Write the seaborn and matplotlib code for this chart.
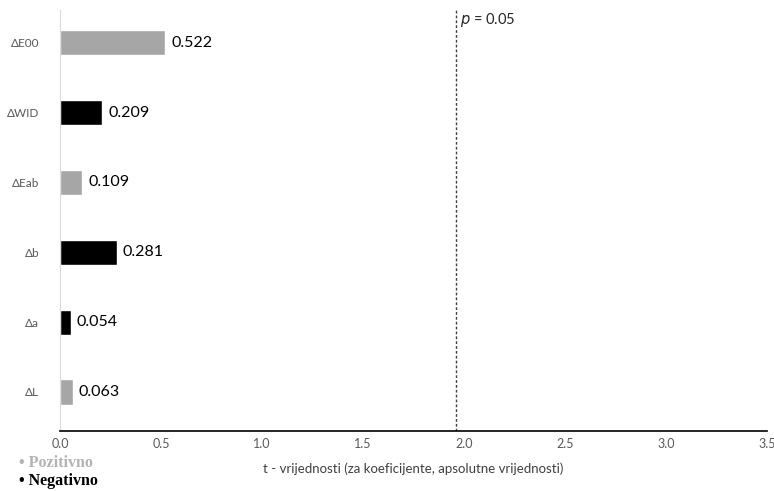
import pandas as pd
import matplotlib
matplotlib.use('Agg')
import matplotlib.pyplot as plt
import seaborn as sns

# data
params = ['ΔE00', 'ΔWID', 'ΔEab', 'Δb', 'Δa', 'ΔL']
t_values = [0.522, 0.209, 0.109, 0.281, 0.054, 0.063]
signs = ['Pozitivno', 'Negativno', 'Pozitivno', 'Negativno', 'Negativno', 'Pozitivno']
p_crit = 1.96
x_ticks = [0.0, 0.5, 1.0, 1.5, 2.0, 2.5, 3.0, 3.5]

df = pd.DataFrame({'param': params, 't': t_values, 'sign': signs})
palette = {'Pozitivno': '#a6a6a6', 'Negativno': '#000000'}

sns.set_style('white')
plt.rcParams['font.family'] = ['Lato', 'DejaVu Sans']

fig = plt.figure(figsize=(7.74, 4.91), dpi=100)
ax = fig.add_axes([0.0775, 0.122, 0.9135, 0.858])

sns.barplot(data=df, y='param', x='t', hue='sign', palette=palette,
            order=params, orient='h', dodge=False, width=0.36,
            legend=False, ax=ax)

# value labels
for i, v in enumerate(t_values):
    ax.text(v + 0.03, i, f'{v:.3f}', va='center', ha='left', fontsize=11.5, color='#000000')

# critical value line
ax.axvline(p_crit, color='#404040', linestyle=(0, (2, 1.5)), linewidth=1)
ax.text(p_crit + 0.02, -0.33, '$p$ = 0.05', fontsize=10.5, va='center', ha='left')

ax.set_xlim(0, 3.5)
ax.set_ylim(5.56, -0.47)
ax.set_xticks(x_ticks)
ax.set_xticklabels([f'{t:.1f}' for t in x_ticks], color='#595959', fontsize=9)
ax.tick_params(axis='y', labelsize=8.5, labelcolor='#595959', length=0, pad=15)
ax.tick_params(axis='x', length=0, pad=5)
ax.set_ylabel('')
ax.set_xlabel('t - vrijednosti (za koeficijente, apsolutne vrijednosti)',
              fontsize=9.5, color='#404040', labelpad=9)

for s in ['top', 'right']:
    ax.spines[s].set_visible(False)
ax.spines['left'].set_color('#d9d9d9')
ax.spines['bottom'].set_color('#000000')
ax.spines['bottom'].set_linewidth(1.2)

# legend text at bottom left
fig.text(0.024, 0.057, '• Pozitivno', family='Liberation Serif', fontweight='bold',
         fontsize=11.5, color='#b3b3b3', va='center')
fig.text(0.024, 0.02, '• Negativno', family='Liberation Serif', fontweight='bold',
         fontsize=11.5, color='#000000', va='center')

fig.savefig('out.png', dpi=100)
